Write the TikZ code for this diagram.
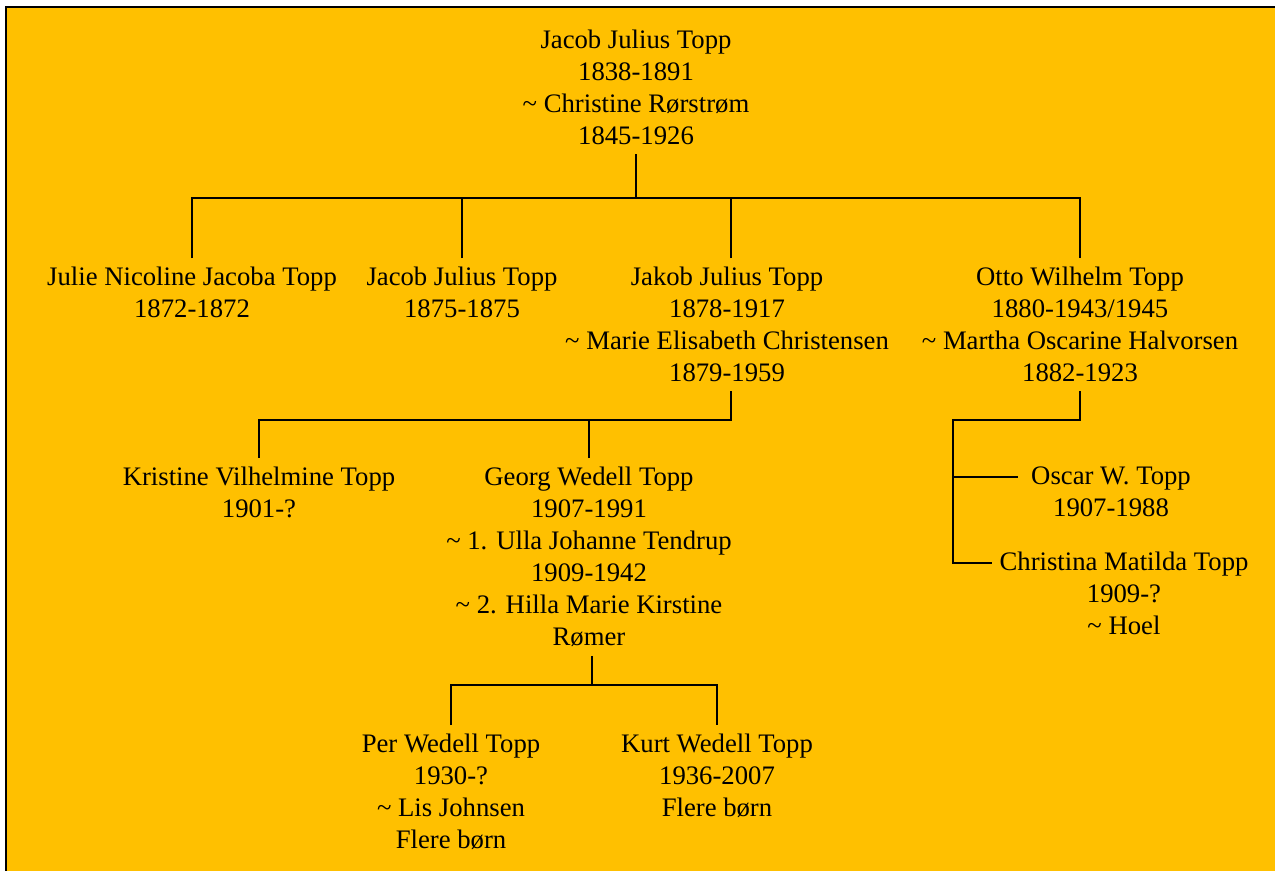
\documentclass[tikz,border=0pt]{standalone}
\usepackage{fontspec}
\setmainfont{Liberation Serif}
\usepackage{tikz}
\definecolor{chartbg}{HTML}{FFC000}

\begin{document}
\begin{tikzpicture}[x=0.02cm,y=-0.02cm,
    person/.style={align=center,anchor=north,inner xsep=0pt,inner ysep=5pt,
      font=\fontsize{15.2}{18.2}\selectfont},
    link/.style={line width=0.8pt}]
  \useasboundingbox (0,0) rectangle (1275,870);

  % Background and frame
  \fill [chartbg] (6,7) rectangle (1285,880);
  \draw [line width=1.3pt] (6,880) -- (6,7) -- (1285,7);

  % Drawing parents
  \node (root) [person] at (636,21) {Jacob Julius Topp\\1838-1891\\\textasciitilde{} Christine Rørstrøm\\1845-1926};

  % Drawing children
  \node (julie) [person] at (192,258) {Julie Nicoline Jacoba Topp\\1872-1872};
  \node (jacob) [person] at (462,258) {Jacob Julius Topp\\1875-1875};
  \node (jakob) [person] at (727,258) {Jakob Julius Topp\\1878-1917\\\textasciitilde{} Marie Elisabeth Christensen\\1879-1959};
  \node (otto) [person] at (1080,258) {Otto Wilhelm Topp\\1880-1943/1945\\\textasciitilde{} Martha Oscarine Halvorsen\\1882-1923};

  % Drawing grandchildren
  \node (kristine) [person] at (259,458) {Kristine Vilhelmine Topp\\1901-?};
  \node (georg) [person] at (589,458) {Georg Wedell Topp\\1907-1991\\\textasciitilde{} 1. Ulla Johanne Tendrup\\1909-1942\\\textasciitilde{} 2. Hilla Marie Kirstine\\Rømer};
  \node (oscar) [person] at (1111,458) {Oscar W. Topp\\1907-1988};
  \node (christina) [person] at (1124,543) {Christina Matilda Topp\\1909-?\\\textasciitilde{} Hoel};

  % Drawing great-grandchildren
  \node (per) [person] at (451,725) {Per Wedell Topp\\1930-?\\\textasciitilde{} Lis Johnsen\\Flere børn};
  \node (kurt) [person] at (717,725) {Kurt Wedell Topp\\1936-2007\\Flere børn};

  % Bars
  \coordinate (rootbar) at (636,198);
  \coordinate (jakobbar) at (731,420);
  \coordinate (georgbar) at (592,685);
  \coordinate (ottobar) at (1080,420);
  \coordinate (ottoside) at (953,420);
  \coordinate (oscarend) at (1018,477);
  \coordinate (christinaend) at (992,563);

  % Lines from Jacob and Christine
  \draw [link] (root) -- (rootbar);
  \draw [link] (julie) |- (rootbar) -| (otto);
  \draw [link] (jacob) -- (jacob |- rootbar);
  \draw [link] (jakob.north -| jakobbar) -- (jakobbar |- rootbar);

  % Lines from Jakob
  \draw [link] (jakob.south -| jakobbar) -- (jakobbar) -| (kristine);
  \draw [link] (georg) -- (georg |- jakobbar);

  % Lines from Georg
  \draw [link] (georg.south -| georgbar) -- (georgbar);
  \draw [link] (per) |- (georgbar) -| (kurt);

  % Lines from Otto
  \draw [link] (otto) -- (ottobar) -- (ottoside) |- (christinaend);
  \draw [link] (ottoside |- oscarend) -- (oscarend);
\end{tikzpicture}
\end{document}
